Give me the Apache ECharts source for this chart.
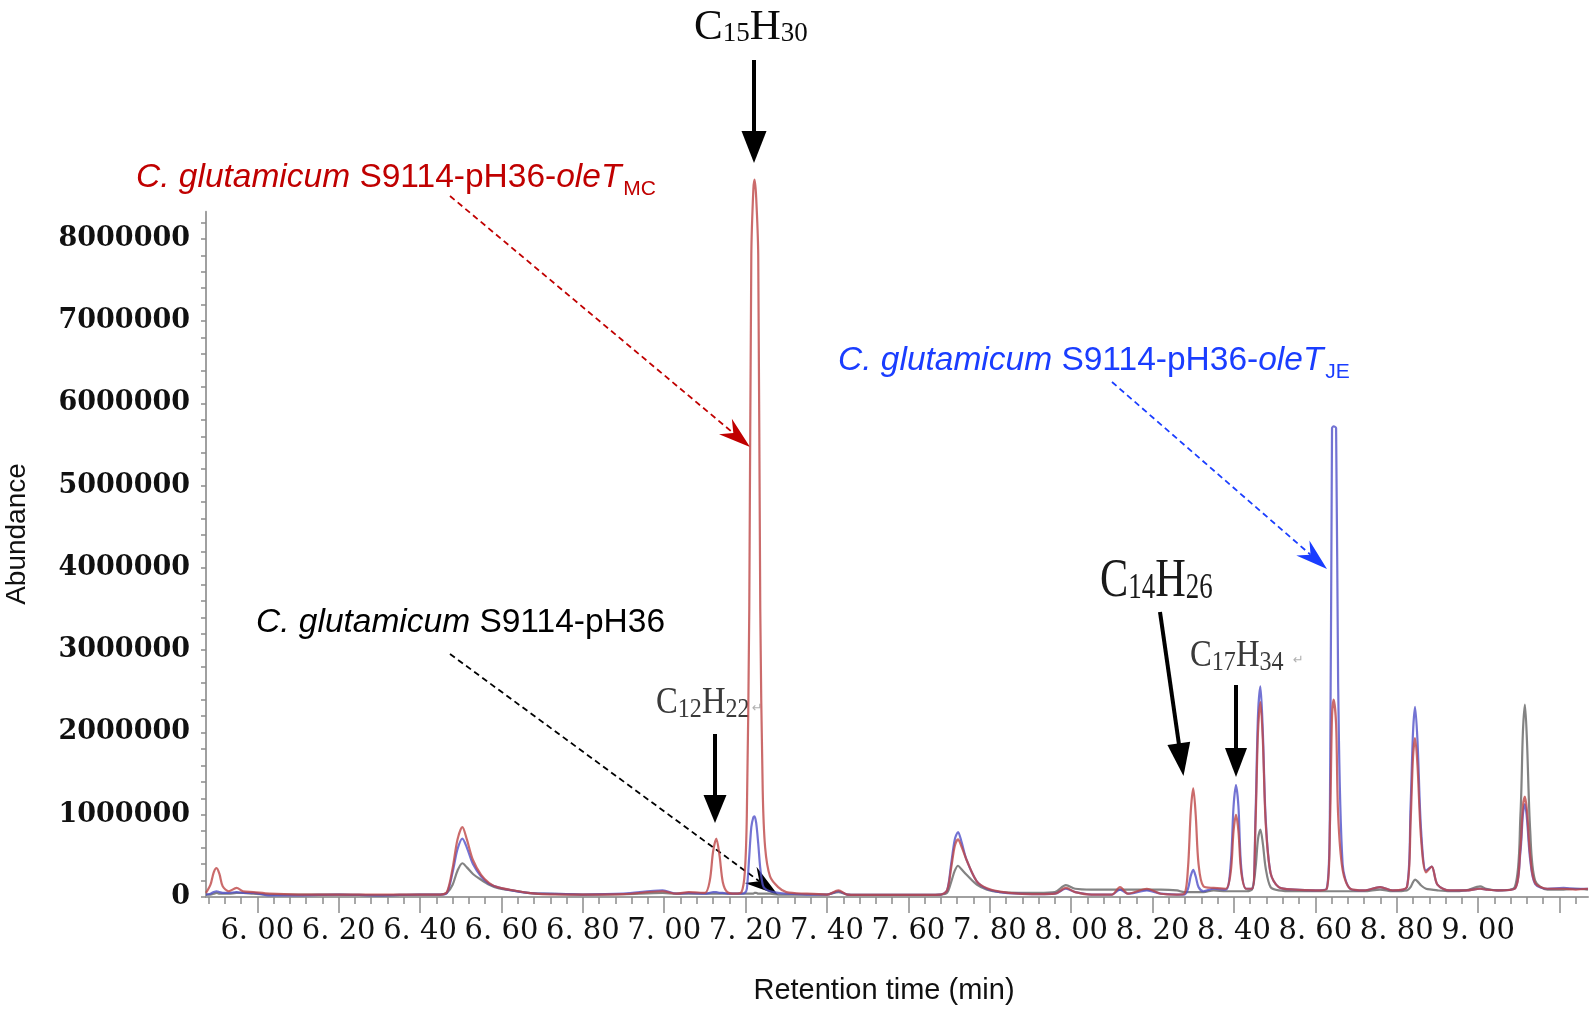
<!DOCTYPE html>
<html><head><meta charset="utf-8">
<script src="https://cdn.jsdelivr.net/npm/echarts@6/dist/echarts.min.js"></script>
<style>html,body{margin:0;padding:0;background:#fff}#c{width:1594px;height:1012px}</style>
</head><body><div id="c"></div>
<script>
// ---- data (retention time in min, abundance in counts) ----
const retentionTime = [5.874,5.885,5.893,5.900,5.907,5.915,5.930,5.949,5.965,5.990,6.03,6.10,6.20,6.30,6.40,6.45,6.466,6.48,6.492,6.504,6.515,6.53,6.55,6.57,6.59,6.625,6.665,6.70,6.80,6.90,6.996,7.03,7.06,7.10,7.112,7.120,7.128,7.136,7.144,7.155,7.175,7.190,7.198,7.203,7.209,7.214,7.219,7.222,7.226,7.231,7.236,7.242,7.248,7.26,7.28,7.30,7.35,7.40,7.428,7.45,7.50,7.60,7.68,7.695,7.705,7.714,7.722,7.730,7.743,7.768,7.793,7.825,7.87,7.92,7.96,7.987,8.01,8.05,8.10,8.12,8.14,8.186,8.22,8.26,8.278,8.287,8.294,8.300,8.306,8.313,8.325,8.35,8.38,8.392,8.399,8.405,8.411,8.418,8.43,8.445,8.453,8.459,8.465,8.471,8.478,8.49,8.51,8.55,8.60,8.628,8.636,8.641,8.645,8.651,8.656,8.667,8.686,8.72,8.759,8.79,8.825,8.834,8.840,8.845,8.851,8.860,8.872,8.886,8.90,8.93,8.97,9.005,9.02,9.05,9.09,9.104,9.110,9.115,9.120,9.128,9.14,9.17,9.21,9.24,9.27];
const abundanceMC = [50000,150000,300000,350000,280000,130000,70000,110000,70000,60000,40000,30000,30000,30000,30000,30000,60000,350000,700000,850000,700000,450000,270000,170000,120000,85000,50000,35000,30000,35000,70000,40000,60000,50000,200000,550000,710000,500000,180000,60000,40000,60000,300000,1000000,3500000,7800000,8600000,8720000,8500000,7800000,3500000,1300000,600000,250000,120000,60000,40000,30000,80000,30000,25000,25000,30000,80000,350000,620000,700000,620000,450000,190000,105000,65000,40000,35000,40000,110000,60000,30000,30000,120000,40000,100000,40000,30000,40000,350000,1050000,1320000,1000000,400000,130000,110000,100000,300000,800000,1000000,800000,300000,100000,100000,900000,2000000,2370000,1900000,900000,290000,120000,90000,80000,100000,900000,2200000,2400000,2100000,1000000,330000,100000,80000,120000,80000,120000,900000,1700000,1930000,1600000,700000,300000,370000,150000,80000,80000,100000,90000,80000,100000,600000,1100000,1220000,1050000,500000,170000,100000,100000,90000,100000];
const abundanceJE = [30000,40000,60000,70000,60000,50000,50000,60000,50000,50000,20000,20000,30000,20000,30000,30000,50000,300000,580000,710000,600000,400000,250000,160000,120000,80000,50000,40000,30000,40000,80000,40000,50000,40000,50000,60000,60000,50000,50000,40000,40000,40000,50000,100000,500000,850000,970000,980000,900000,650000,350000,150000,100000,70000,50000,40000,30000,30000,70000,30000,25000,25000,30000,80000,400000,700000,790000,680000,450000,190000,100000,60000,40000,35000,40000,100000,60000,30000,30000,90000,40000,80000,40000,30000,30000,100000,260000,330000,250000,120000,70000,100000,90000,400000,1100000,1360000,1100000,350000,100000,100000,1000000,2200000,2560000,2000000,950000,290000,120000,90000,80000,100000,1200000,5700000,5720000,5700000,2600000,400000,100000,80000,120000,80000,120000,1100000,2000000,2310000,1900000,800000,320000,370000,150000,80000,80000,100000,90000,80000,100000,550000,1000000,1130000,950000,450000,160000,100000,110000,100000,100000];
const abundanceControl = [30000,30000,40000,50000,40000,40000,40000,50000,50000,40000,30000,30000,30000,20000,30000,30000,50000,150000,320000,410000,360000,280000,210000,150000,110000,80000,50000,40000,30000,35000,50000,40000,40000,40000,40000,40000,40000,40000,40000,40000,40000,40000,40000,40000,40000,40000,40000,50000,50000,40000,40000,40000,40000,40000,30000,30000,30000,30000,60000,30000,25000,25000,30000,50000,180000,320000,380000,340000,270000,150000,90000,60000,50000,50000,60000,145000,100000,90000,90000,90000,90000,90000,90000,80000,60000,60000,60000,60000,60000,60000,60000,80000,70000,70000,70000,70000,70000,70000,70000,100000,350000,700000,820000,650000,350000,120000,80000,70000,70000,70000,70000,70000,70000,70000,70000,70000,70000,70000,90000,70000,80000,120000,180000,210000,190000,140000,100000,90000,80000,70000,80000,130000,100000,80000,120000,1000000,2000000,2340000,1900000,800000,200000,90000,90000,100000,90000];
const xTickLabels = [6.0,6.2,6.4,6.6,6.8,7.0,7.2,7.4,7.6,7.8,8.0,8.2,8.4,8.6,8.8,9.0];
const yTickLabels = [0,1000000,2000000,3000000,4000000,5000000,6000000,7000000,8000000];
const seriesNames = ['C. glutamicum S9114-pH36','C. glutamicum S9114-pH36-oleT JE','C. glutamicum S9114-pH36-oleT MC'];

const X0 = 5.874, X1 = 9.27, Y1 = 8330000;
const r2 = v => Math.round(v * 100) / 100;
const xMajor = []; for (let k = 0; k <= 16; k++) xMajor.push(r2(6.0 + 0.2 * k));
const xMinor = []; for (let k = 0; k <= 84; k++) xMinor.push(r2(5.88 + 0.04 * k));
const yMinor = []; for (let k = 0; k <= 41; k++) yMinor.push(k * 200000);

const pairs = arr => retentionTime.map((t, i) => [t, arr[i]]);

// ---- annotation helpers ----
const mctx = document.createElement('canvas').getContext('2d');
const SANS = "'Liberation Sans', Arial, sans-serif";
const SERIF = "'Liberation Serif', 'Times New Roman', serif";
function fontStr(s) { return (s.style || 'normal') + ' normal ' + s.size + 'px ' + s.family; }
function richText(x, yc, segs, fill, scaleX) {
  let cx = 0; const children = [];
  segs.forEach(s => {
    const f = fontStr(s);
    mctx.font = f;
    const w = mctx.measureText(s.t).width;
    children.push({ type: 'text', x: cx, y: (s.dy || 0), silent: true,
      style: { text: s.t, font: f, fill: s.fill || fill, textAlign: 'left', textVerticalAlign: 'middle', verticalAlign: 'middle' } });
    cx += w + (s.gap || 0);
  });
  return { type: 'group', x: x, y: yc, scaleX: scaleX || 1, silent: true, children };
}
function solidArrow(x1, y1, x2, y2, L, W, lw, color) {
  const dx = x2 - x1, dy = y2 - y1, d = Math.hypot(dx, dy), ux = dx / d, uy = dy / d, nx = -uy, ny = ux;
  const bx = x2 - L * ux, by = y2 - L * uy;
  return [
    { type: 'line', silent: true, shape: { x1, y1, x2: bx + ux * 2, y2: by + uy * 2 }, style: { stroke: color, lineWidth: lw } },
    { type: 'polygon', silent: true, shape: { points: [[x2, y2], [bx + W * nx, by + W * ny], [bx - W * nx, by - W * ny]] }, style: { fill: color } }
  ];
}
function dashArrow(x1, y1, x2, y2, L, W, color) {
  const dx = x2 - x1, dy = y2 - y1, d = Math.hypot(dx, dy), ux = dx / d, uy = dy / d, nx = -uy, ny = ux;
  const bx = x2 - L * ux, by = y2 - L * uy, kx = x2 - 0.68 * L * ux, ky = y2 - 0.68 * L * uy;
  return [
    { type: 'line', silent: true, shape: { x1, y1, x2: kx, y2: ky }, style: { stroke: color, lineWidth: 1.8, lineDash: [6, 4] } },
    { type: 'polygon', silent: true, shape: { points: [[x2, y2], [bx + W * nx, by + W * ny], [kx, ky], [bx - W * nx, by - W * ny]] }, style: { fill: color } }
  ];
}

const RED = '#c00000', BLUE = '#1a3dff', BLK = '#000000';
const graphics = [];
// strain labels
const FS = 33.5;
const strainSegs = (sub) => {
  const a = [
    { t: 'C. glutamicum', size: FS, family: SANS, style: 'italic' },
    { t: ' S9114-pH36' + (sub ? '-' : ''), size: FS, family: SANS }
  ];
  if (sub) { a.push({ t: 'oleT', size: FS, family: SANS, style: 'italic', gap: 2 }); a.push({ t: sub, size: 21, family: SANS, dy: 11 }); }
  return a;
};
graphics.push(richText(136, 178, strainSegs('MC'), RED));
graphics.push(richText(838, 361, strainSegs('JE'), BLUE));
graphics.push(richText(256, 623, strainSegs(null), BLK));
graphics.push(...dashArrow(450, 196, 750, 447, 32, 10, RED));
graphics.push(...dashArrow(1112, 382, 1327, 569, 32, 10, BLUE));
graphics.push(...dashArrow(450, 654, 778, 895, 34, 10, BLK));

// compound labels
const formula = (a, an, b, bn, big, small, dy) => [
  { t: a, size: big, family: SERIF }, { t: an, size: small, family: SERIF, dy: dy },
  { t: b, size: big, family: SERIF }, { t: bn, size: small, family: SERIF, dy: dy }
];
graphics.push(richText(694, 27.5, formula('C', '15', 'H', '30', 43, 27, 6), '#0a0a0a'));
graphics.push(richText(1100, 581.5, formula('C', '14', 'H', '26', 55, 35, 7), '#1a1a1a', 0.77));
graphics.push(richText(1190, 656, formula('C', '17', 'H', '34', 38, 28, 6.5), '#3a3a3a', 0.86));
graphics.push(richText(656, 703, formula('C', '12', 'H', '22', 38, 28, 6.5), '#3a3a3a', 0.86));
graphics.push({ type: 'text', silent: true, x: 1293, y: 661, style: { text: '\u21b5', font: "13px 'DejaVu Sans'", fill: '#b0b0b0', textVerticalAlign: 'middle' } });
graphics.push({ type: 'text', silent: true, x: 752, y: 709, style: { text: '\u21b5', font: "13px 'DejaVu Sans'", fill: '#b0b0b0', textVerticalAlign: 'middle' } });
graphics.push(...solidArrow(754, 60, 754, 163, 32, 12.5, 4, '#000'));
graphics.push(...solidArrow(715, 734, 715, 823, 28, 11.5, 4, '#000'));
graphics.push(...solidArrow(1160, 612, 1183.5, 776, 33, 11.5, 4, '#000'));
graphics.push(...solidArrow(1236, 685, 1236, 777, 29, 11, 4, '#000'));

// axis names
graphics.push({ type: 'text', silent: true, x: 17, y: 534, rotation: Math.PI / 2,
  style: { text: 'Abundance', font: "28px " + SANS, fill: '#111', textAlign: 'center', textVerticalAlign: 'middle' } });
graphics.push({ type: 'text', silent: true, x: 884, y: 991,
  style: { text: 'Retention time (min)', font: "29px " + SANS, fill: '#111', textAlign: 'center', textVerticalAlign: 'middle' } });

const chart = echarts.init(document.getElementById('c'));
const tickStyle = { color: '#8c8c8c', width: 1.5 };
chart.setOption({
  animation: false,
  backgroundColor: '#ffffff',
  grid: { left: 206, right: 6, top: 211.7, bottom: 115, containLabel: false, outerBoundsMode: 'none' },
  xAxis: [{
    type: 'value', min: X0, max: X1,
    axisLine: { show: true, onZero: false, lineStyle: { color: '#a0a0a0', width: 2 } },
    axisTick: { show: true, customValues: xMajor, length: 16, lineStyle: tickStyle },
    axisLabel: { customValues: xTickLabels, formatter: v => Number(v).toFixed(2).replace('.', '. '),
      fontFamily: 'DejaVu Serif', fontSize: 29, color: '#111', margin: 20 },
    splitLine: { show: false }
  }, {
    type: 'value', min: X0, max: X1, position: 'bottom',
    axisLine: { show: false },
    axisTick: { show: true, customValues: xMinor, length: 7, lineStyle: tickStyle },
    axisLabel: { show: false }, splitLine: { show: false }
  }],
  yAxis: {
    type: 'value', min: 0, max: Y1,
    axisLine: { show: true, onZero: false, lineStyle: { color: '#a0a0a0', width: 2 } },
    axisTick: { show: true, customValues: yMinor, length: 5, lineStyle: tickStyle },
    axisLabel: { customValues: yTickLabels, formatter: v => String(Math.round(Number(v))),
      fontFamily: 'DejaVu Serif', fontWeight: 'bold', fontSize: 27, color: '#111', margin: 16 },
    splitLine: { show: false }
  },
  series: [
    { name: seriesNames[0], type: 'line', data: pairs(abundanceControl), symbol: 'none', smooth: 0.3, z: 2, clip: false,
      lineStyle: { color: 'rgba(100,100,100,0.8)', width: 2.2 } },
    { name: seriesNames[1], type: 'line', data: pairs(abundanceJE), symbol: 'none', smooth: 0.3, z: 3, clip: false,
      lineStyle: { color: 'rgba(80,80,200,0.8)', width: 2.2 } },
    { name: seriesNames[2], type: 'line', data: pairs(abundanceMC), symbol: 'none', smooth: 0.3, z: 4, clip: false,
      lineStyle: { color: 'rgba(190,70,70,0.8)', width: 2.2 } }
  ],
  graphic: { elements: graphics }
});
</script>
</body></html>
